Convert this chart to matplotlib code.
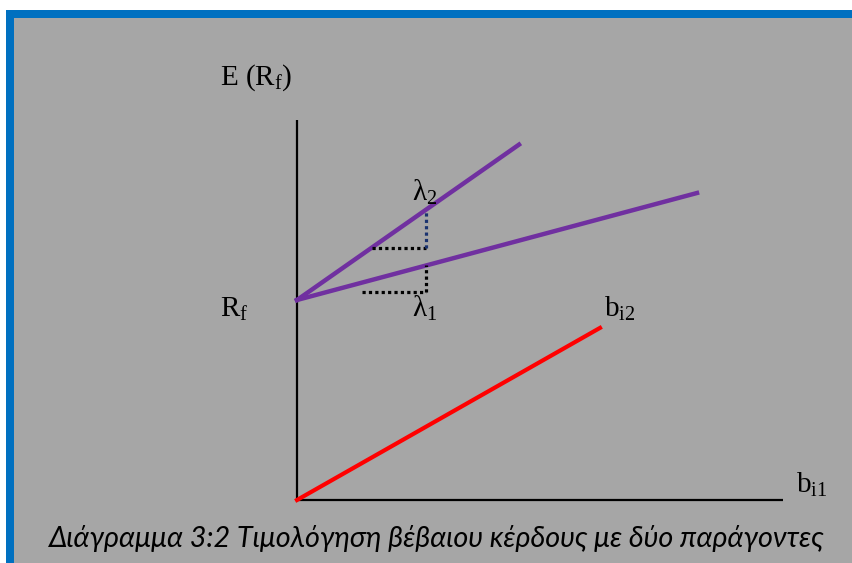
import matplotlib
matplotlib.use("Agg")
import matplotlib.pyplot as plt
from matplotlib.patches import Rectangle
import numpy as np

# Model values (units: beta on x, expected return on y)
rf = 2.0                 # risk-free rate intercept
lambda1 = 0.2675         # slope of the factor-1 pricing line
lambda2 = 0.70           # slope of the factor-2 pricing line
slope_bi2 = 0.568        # slope of the b_i2 line from the origin
x_end_l2 = 2.22          # end of steeper pricing line
x_end_l1 = 4.00          # end of flatter pricing line
x_end_bi2 = 3.03         # end of b_i2 line
y_axis_top = 3.80
x_axis_end = 4.86

# Slope-triangle markers
tri_x_right = 1.29
tri2_x_left = 0.75
tri1_x_left = 0.65
tri1_y_base = 2.08

caption = "Διάγραμμα 3:2 Τιμολόγηση βέβαιου κέρδους με δύο παράγοντες"

plt.rcParams["mathtext.fontset"] = "custom"
plt.rcParams["mathtext.rm"] = "Liberation Serif"
plt.rcParams["mathtext.it"] = "Liberation Serif:italic"

W, H, DPI = 852, 563, 100
fig = plt.figure(figsize=(W / DPI, H / DPI), dpi=DPI, facecolor="white")

# Grey panel with blue border on top and left
grey = "#a6a6a6"
blue = "#0070c0"
fig.add_artist(Rectangle((6 / W, 0), 1 - 6 / W, (H - 10) / H,
                         transform=fig.transFigure, facecolor=grey,
                         edgecolor="none", zorder=0))
fig.add_artist(Rectangle((6 / W, 0), 8 / W, (H - 10) / H,
                         transform=fig.transFigure, facecolor=blue,
                         edgecolor="none", zorder=1))
fig.add_artist(Rectangle((6 / W, (H - 18) / H), 1 - 6 / W, 8 / H,
                         transform=fig.transFigure, facecolor=blue,
                         edgecolor="none", zorder=1))

ax = fig.add_axes([0, 0, 1, 1])
ax.set_axis_off()
ax.patch.set_alpha(0)
# 1 unit = 100 px, origin at pixel (297, 500)
ax.set_xlim(-2.97, (W - 297) / 100)
ax.set_ylim(-(H - 500) / 100, 5.0)

# Axes lines
ax.plot([0, 0], [0, y_axis_top], color="black", lw=1.6, solid_capstyle="butt")
ax.plot([0, x_axis_end], [0, 0], color="black", lw=1.6, solid_capstyle="butt")

purple = "#7030a0"
# Pricing lines
xs = np.array([0, x_end_l2])
ax.plot(xs, rf + lambda2 * xs, color=purple, lw=3.2)
xs = np.array([0, x_end_l1])
ax.plot(xs, rf + lambda1 * xs, color=purple, lw=3.2)
# b_i2 line from origin
xs = np.array([0, x_end_bi2])
ax.plot(xs, slope_bi2 * xs, color="#ff0000", lw=3.0)

dot = (0, (1, 1))
# Upper triangle (lambda2)
y2a = rf + lambda2 * tri2_x_left
y2b = rf + lambda2 * tri_x_right
ax.plot([tri2_x_left, tri_x_right], [y2a, y2a], color="black", lw=2.3, linestyle=dot)
ax.plot([tri_x_right, tri_x_right], [y2a, y2b], color="#1a3370", lw=2.3, linestyle=dot)
# Lower triangle (lambda1)
y1b = rf + lambda1 * tri_x_right
ax.plot([tri1_x_left, tri_x_right], [tri1_y_base, tri1_y_base], color="black", lw=2.3, linestyle=dot)
ax.plot([tri_x_right, tri_x_right], [tri1_y_base, y1b], color="black", lw=2.3, linestyle=dot)

serif = "Liberation Serif"
fs = 21
def lbl(x, y, s):
    ax.text(x, y, s, fontsize=fs, family=serif, ha="left", va="baseline")

lbl(-0.77, 4.15, r"E (R$_\mathrm{f}$)")
lbl(-0.77, 1.83, r"R$_\mathrm{f}$")
lbl(1.15, 2.99, r"λ$_\mathrm{2}$")
lbl(1.15, 1.83, r"λ$_\mathrm{1}$")
lbl(3.07, 1.83, r"b$_\mathrm{i2}$")
lbl(4.99, 0.07, r"b$_\mathrm{i1}$")

# Caption, sized to span the panel width
cap = ax.text((437 - 297) / 100, (500 - 547) / 100, caption, fontsize=20,
              family="Lato", style="italic", ha="center", va="baseline",
              color="black")
fig.canvas.draw()
width_px = cap.get_window_extent(fig.canvas.get_renderer()).width
cap.set_fontsize(20 * 775 / width_px)

fig.savefig("out.png", dpi=DPI, facecolor="white")
